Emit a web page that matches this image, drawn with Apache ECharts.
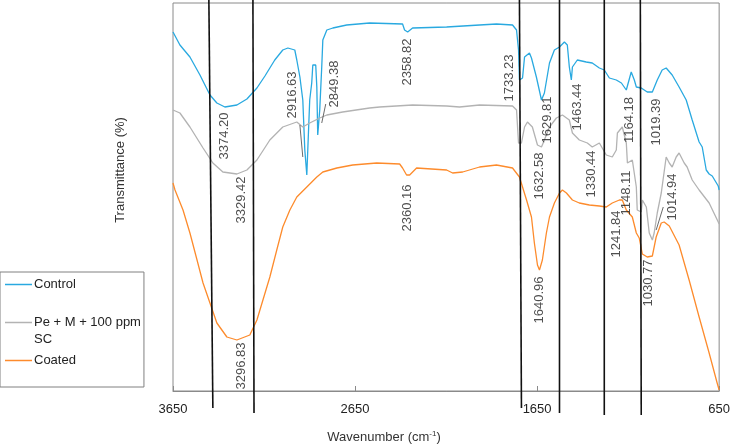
<!DOCTYPE html>
<html>
<head>
<meta charset="utf-8">
<script src="https://cdn.jsdelivr.net/npm/echarts@6/dist/echarts.min.js"></script>
<style>
    html, body { margin: 0; padding: 0; background: #fff; }
    #chart { width: 733px; height: 445px; }
</style>
</head>
<body>
<div id="chart"></div>
<script>
// FTIR spectra, values (arbitrary transmittance units)
const controlWn = [3650, 3612, 3557, 3502, 3447, 3409, 3365, 3299, 3244, 3189, 3145, 3091, 3047, 3019, 2981, 2970, 2953, 2937, 2926, 2915, 2899, 2888, 2882, 2866, 2860, 2855, 2844, 2833, 2827, 2805, 2772, 2696, 2570, 2389, 2378, 2361, 2334, 2147, 1966, 1873, 1785, 1763, 1752, 1747, 1730, 1719, 1692, 1681, 1654, 1626, 1610, 1582, 1555, 1527, 1500, 1484, 1473, 1462, 1456, 1429, 1380, 1347, 1308, 1281, 1253, 1215, 1187, 1160, 1133, 1116, 1105, 1078, 1045, 1017, 990, 963, 941, 908, 870, 831, 798, 760, 743, 721, 705, 688, 655, 650];
const controlT = [359, 346, 334, 316, 296, 288, 284, 286, 292, 303, 315, 331, 341, 343, 341, 331, 314, 291, 241, 216, 291, 308, 326, 326, 304, 256, 281, 324, 351, 361, 363, 366, 368, 367, 361, 359, 363, 364, 366, 367, 366, 361, 341, 311, 313, 334, 338, 333, 314, 291, 298, 328, 341, 344, 349, 346, 324, 311, 324, 331, 329, 328, 323, 321, 313, 311, 308, 301, 319, 311, 304, 303, 299, 299, 311, 321, 323, 316, 304, 291, 271, 249, 244, 221, 217, 215, 205, 201];

const peWn = [3650, 3612, 3557, 3485, 3431, 3376, 3299, 3244, 3189, 3118, 3047, 2970, 2937, 2899, 2844, 2805, 2718, 2570, 2515, 2334, 2147, 2076, 1966, 1785, 1763, 1752, 1736, 1719, 1703, 1676, 1648, 1626, 1610, 1582, 1544, 1511, 1473, 1456, 1418, 1374, 1347, 1308, 1270, 1237, 1215, 1209, 1182, 1160, 1154, 1127, 1105, 1100, 1078, 1072, 1050, 1034, 1017, 1007, 990, 968, 941, 924, 908, 886, 870, 842, 826, 798, 760, 705, 655, 650];
const peT = [281, 278, 264, 243, 228, 219, 217, 221, 231, 251, 264, 269, 264, 268, 273, 276, 279, 283, 284, 286, 285, 284, 286, 285, 281, 248, 248, 264, 269, 264, 246, 244, 251, 264, 273, 276, 271, 258, 251, 248, 244, 248, 236, 234, 241, 258, 264, 248, 228, 231, 204, 181, 179, 191, 184, 158, 151, 158, 178, 198, 234, 228, 224, 234, 238, 228, 224, 211, 201, 188, 169, 167];

const coatedWn = [3650, 3639, 3595, 3557, 3518, 3485, 3447, 3409, 3354, 3299, 3228, 3189, 3156, 3118, 3080, 3047, 3008, 2970, 2915, 2860, 2827, 2750, 2663, 2531, 2405, 2389, 2367, 2350, 2312, 2147, 2114, 2059, 1966, 1873, 1785, 1747, 1708, 1681, 1665, 1648, 1637, 1621, 1599, 1582, 1555, 1527, 1511, 1489, 1456, 1418, 1363, 1308, 1270, 1237, 1198, 1182, 1160, 1127, 1105, 1089, 1072, 1045, 1017, 996, 968, 952, 924, 870, 815, 760, 705, 661, 650];
const coatedT = [208, 201, 181, 158, 131, 108, 88, 68, 54, 51, 56, 71, 91, 114, 141, 164, 181, 194, 204, 214, 219, 223, 226, 228, 227, 223, 216, 216, 223, 221, 218, 219, 224, 226, 223, 214, 191, 174, 148, 126, 121, 131, 158, 174, 188, 198, 201, 198, 191, 188, 186, 185, 184, 188, 191, 191, 181, 174, 158, 153, 137, 134, 135, 154, 168, 169, 165, 146, 111, 74, 38, 8, 1];

// peak labels: text, wavenumber, height
const peakLabels = ["3374.20", "3329.42", "3296.83", "2916.63", "2849.38", "2358.82", "2360.16", "1733.23", "1629.81", "1632.58", "1640.96", "1463.44", "1330.44", "1241.84", "1148.11", "1164.18", "1019.39", "1014.94", "1030.77"];
const peakWn = [3365, 3272, 3272, 2992, 2761, 2361, 2361, 1802, 1593, 1637, 1637, 1429, 1352, 1215, 1160, 1144, 995, 908, 1039];
const peakT = [255, 191, 25, 296, 307, 329, 183, 313, 271, 215, 91, 284, 217, 157, 198, 271, 269, 194, 108];

// black marker lines (top point, bottom point), slightly slanted like the original
const markerTopWn = [3453, 3211, 1747, 1527, 1281, 1083];
const markerBottomWn = [3431, 3205, 1736, 1527, 1281, 1078];
const markerBottomT = [-17, -22, -17, -22, -24, -24];

// thin leader lines from labels to peaks
const leaders = [
    [[2953, 266], [2937, 234]],
    [[2811, 287], [2833, 268]],
    [[957, 184], [996, 161]]
];

const zip = (xs, ys) => xs.map((x, i) => [x, ys[i]]);

const chart = echarts.init(document.getElementById("chart"));

const curve = (name, xs, ys, color) => ({
    name: name,
    type: "line",
    data: zip(xs, ys),
    showSymbol: false,
    symbol: "none",
    lineStyle: { color: color, width: 1.3 },
    itemStyle: { color: color },
    z: 3
});

const series = [
    curve("Control", controlWn, controlT, "#29a9e0"),
    curve("Pe + M + 100 ppm\nSC", peWn, peT, "#b3b3b3"),
    curve("Coated", coatedWn, coatedT, "#fd8b2c")
];

markerTopWn.forEach((wn, i) => {
    series.push({
        type: "line",
        data: [[wn, 391], [markerBottomWn[i], markerBottomT[i]]],
        symbol: "none",
        clip: false,
        silent: true,
        lineStyle: { color: "#111", width: 1.6 },
        z: 4
    });
});

leaders.forEach(seg => {
    series.push({
        type: "line",
        data: seg,
        symbol: "none",
        silent: true,
        lineStyle: { color: "#444", width: 0.8 },
        z: 4
    });
});

series.push({
    type: "scatter",
    symbolSize: 1,
    silent: true,
    itemStyle: { color: "transparent" },
    data: peakLabels.map((t, i) => ({ name: t, value: [peakWn[i], peakT[i]] })),
    label: {
        show: true,
        formatter: "{b}",
        position: "inside",
        rotate: 90,
        align: "center",
        verticalAlign: "middle",
        fontSize: 13,
        fontFamily: "Liberation Sans",
        color: "#222"
    },
    z: 5
});

const options = {
    animation: false,
    textStyle: { fontFamily: "Liberation Sans" },
    grid: {
        left: 173,
        right: 13,
        top: 3,
        bottom: 54,
        show: true,
        borderColor: "#8a8a8a",
        borderWidth: 1
    },
    legend: {
        data: ["Control", "Pe + M + 100 ppm\nSC", "Coated"],
        orient: "vertical",
        left: 0,
        top: 272,
        padding: [4, 3, 18, 5],
        itemGap: 4,
        itemWidth: 27,
        itemHeight: 1.5,
        icon: "rect",
        borderColor: "#808080",
        borderWidth: 1,
        formatter: name => (name.indexOf("Pe") === 0 ? "\n" + name : name),
        textStyle: { fontSize: 13, lineHeight: 17, color: "#222", fontFamily: "Liberation Sans", padding: [0, 0, 0, -3] }
    },
    xAxis: {
        type: "value",
        inverse: true,
        min: 650,
        max: 3650,
        interval: 1000,
        axisLine: { show: true, lineStyle: { color: "#8a8a8a" } },
        axisTick: { show: true, inside: true, length: 5, lineStyle: { color: "#8a8a8a" } },
        axisLabel: { margin: 12, fontSize: 13, color: "#222", formatter: v => String(v) },
        splitLine: { show: false }
    },
    yAxis: {
        type: "value",
        min: 0,
        max: 388,
        axisLine: { show: false },
        axisTick: { show: false },
        axisLabel: { show: false },
        splitLine: { show: false }
    },
    graphic: [
        {
            type: "text",
            x: 120,
            y: 170,
            rotation: Math.PI / 2,
            style: {
                text: "Transmittance (%)",
                fontSize: 13,
                fontFamily: "Liberation Sans",
                fill: "#333",
                align: "center",
                verticalAlign: "middle"
            }
        },
        {
            type: "text",
            x: 384,
            y: 437,
            style: {
                text: "Wavenumber (cm{sup|-1})",
                fontSize: 13,
                fontFamily: "Liberation Sans",
                fill: "#333",
                align: "center",
                verticalAlign: "middle",
                rich: {
                    sup: { fontSize: 8, verticalAlign: "top", padding: [0, 0, 6, 0], fill: "#333" }
                }
            }
        }
    ],
    series: series
};

chart.setOption(options);
</script>
</body>
</html>
